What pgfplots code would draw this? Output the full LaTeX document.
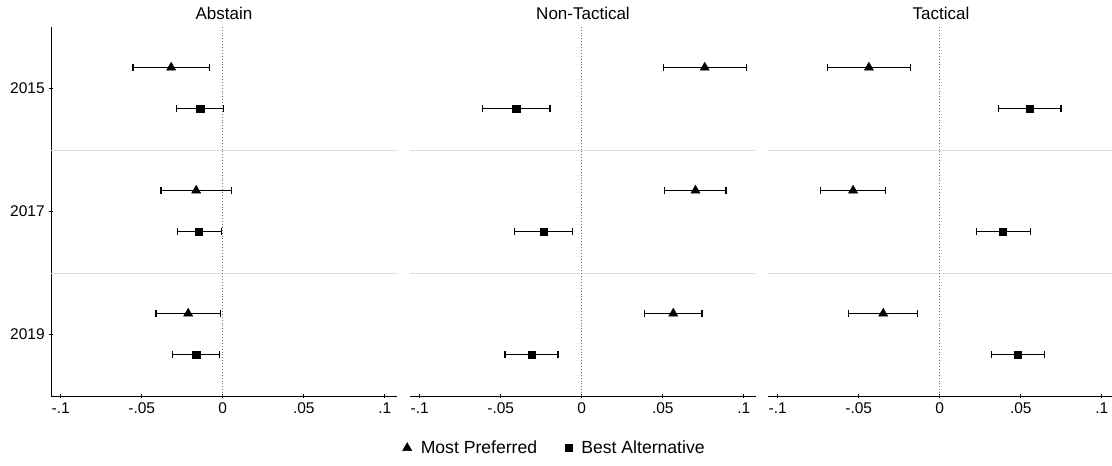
\documentclass[border=0pt]{standalone}
\usepackage{fontspec}
\setmainfont{Liberation Sans}
\usepackage{pgfplots}
\pgfplotsset{compat=1.18}
\usepackage{pgfplotstable}

% y: 3 = 2015, 2 = 2017, 1 = 2019 ; x = estimate, e = CI half-width
\pgfplotstableread{
y x e
3.17 -0.03185 0.02355
2.17 -0.0164 0.0217
1.17 -0.02135 0.01985
}\absMP
\pgfplotstableread{
y x e
2.835 -0.0139 0.0145
1.835 -0.0146 0.0136
0.835 -0.0164 0.0145
}\absBA
\pgfplotstableread{
y x e
3.17 0.07585 0.02555
2.17 0.07015 0.01885
1.17 0.05645 0.01775
}\nonMP
\pgfplotstableread{
y x e
2.835 -0.04045 0.02085
1.835 -0.0237 0.0178
0.835 -0.03105 0.01635
}\nonBA
\pgfplotstableread{
y x e
3.17 -0.04375 0.02545
2.17 -0.0535 0.0202
1.17 -0.0349 0.0212
}\tacMP
\pgfplotstableread{
y x e
2.835 0.0554 0.0194
1.835 0.03905 0.01665
0.835 0.04825 0.01615
}\tacBA

\pgfplotsset{
  panel/.style={
    scale only axis, width=346bp, height=369bp,
    xmin=-0.106, xmax=0.1075, ymin=0.5, ymax=3.5,
    enlargelimits=false, clip=false,
    xtick={-0.1,-0.05,0,0.05,0.1},
    xticklabels={-.1,-.05,0,.05,.1},
    tick align=outside, major tick length=4.5bp,
    tick style={line width=0.9bp, black},
    tick label style={font=\fontsize{15.5bp}{17bp}\selectfont, black},
    xticklabel style={yshift=-1bp},
    every axis title/.style={font=\fontsize{17bp}{19bp}\selectfont, at={(0.5,1)}, anchor=base, yshift=7.5bp},
  },
  mp/.style={only marks, black, mark=triangle*, mark size=5.3bp,
    mark options={line width=0.5bp},
    error bars/.cd, x dir=both, x explicit, error mark=|,
    error bar style={line width=1.2bp, black},
    error mark options={mark size=3.4bp, line width=1.1bp, black}},
  ba/.style={only marks, black, mark=square*, mark size=3.6bp,
    mark options={line width=0.5bp},
    error bars/.cd, x dir=both, x explicit, error mark=|,
    error bar style={line width=1.2bp, black},
    error mark options={mark size=3.4bp, line width=1.1bp, black}},
  sep/.style={color=black!13, line width=0.9bp, forget plot},
  zero/.style={color=black!55, line width=0.8bp, dash pattern=on 0.9bp off 2bp, forget plot},
}

\begin{document}
\begin{tikzpicture}
\useasboundingbox (0,0) rectangle (1112bp,466bp);

\begin{axis}[panel, at={(51bp,70bp)}, anchor=south west, title={Abstain},
  axis lines=left, axis line style={-, line width=0.9bp, black},
  ytick={1,2,3}, yticklabels={2019,2017,2015},
  yticklabel style={xshift=-0.5bp}]
\addplot[sep] coordinates {(-0.106,1.5) (0.1075,1.5)};
\addplot[sep] coordinates {(-0.106,2.5) (0.1075,2.5)};
\addplot[zero] coordinates {(0,0.5) (0,3.5)};
\addplot[mp] table[x=x, y=y, x error=e] {\absMP};
\addplot[ba] table[x=x, y=y, x error=e] {\absBA};
\end{axis}

\begin{axis}[panel, at={(410bp,70bp)}, anchor=south west, title={Non-Tactical},
  axis x line=bottom, axis y line=none, ytick=\empty,
  axis line style={-, line width=0.9bp, black},
  legend columns=2,
  legend style={draw=none, fill=none, at={(0.418,-0.141)}, anchor=center,
    font=\fontsize{17.6bp}{19bp}\selectfont,
    /tikz/every odd column/.append style={column sep=7bp},
    /tikz/every even column/.append style={column sep=26bp}},
  legend cell align=left]
\addplot[sep] coordinates {(-0.106,1.5) (0.1075,1.5)};
\addplot[sep] coordinates {(-0.106,2.5) (0.1075,2.5)};
\addplot[zero] coordinates {(0,0.5) (0,3.5)};
\addplot[mp] table[x=x, y=y, x error=e] {\nonMP};
\addlegendentry{Most Preferred}
\addplot[ba] table[x=x, y=y, x error=e] {\nonBA};
\addlegendentry{Best Alternative}
\end{axis}

\begin{axis}[panel, at={(768bp,70bp)}, anchor=south west, title={Tactical},
  axis x line=bottom, axis y line=none, ytick=\empty,
  axis line style={-, line width=0.9bp, black}]
\addplot[sep] coordinates {(-0.106,1.5) (0.1075,1.5)};
\addplot[sep] coordinates {(-0.106,2.5) (0.1075,2.5)};
\addplot[zero] coordinates {(0,0.5) (0,3.5)};
\addplot[mp] table[x=x, y=y, x error=e] {\tacMP};
\addplot[ba] table[x=x, y=y, x error=e] {\tacBA};
\end{axis}
\end{tikzpicture}
\end{document}
